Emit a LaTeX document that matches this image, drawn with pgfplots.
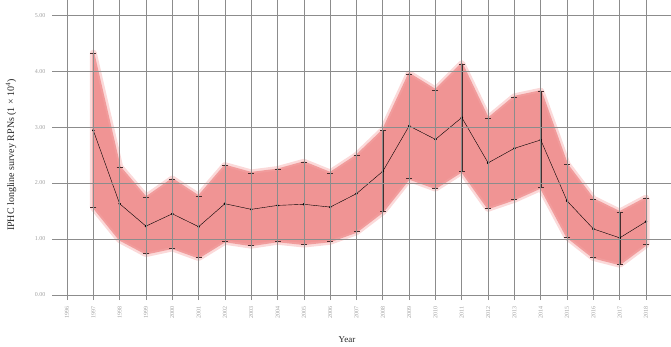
\documentclass[border=0pt]{standalone}
\usepackage{fontspec}
\setmainfont{Liberation Serif}
\usepackage{pgfplots}
\pgfplotsset{compat=1.18}
\usepackage{pgfplotstable}
\usepgfplotslibrary{fillbetween}
\definecolor{band}{RGB}{240,148,148}
\definecolor{halo}{RGB}{249,200,200}
\definecolor{gridc}{RGB}{140,140,140}
\definecolor{tickc}{RGB}{160,160,160}
\definecolor{errc}{RGB}{70,45,45}
\pgfplotstableread{
year mean lo hi
1997 2.94 1.57 4.32
1998 1.63 0.99 2.29
1999 1.23 0.74 1.74
2000 1.45 0.84 2.07
2001 1.22 0.67 1.76
2002 1.63 0.96 2.31
2003 1.53 0.89 2.18
2004 1.60 0.96 2.24
2005 1.62 0.91 2.37
2006 1.57 0.96 2.18
2007 1.81 1.13 2.49
2008 2.21 1.49 2.94
2009 3.02 2.08 3.95
2010 2.78 1.91 3.66
2011 3.17 2.21 4.13
2012 2.36 1.55 3.15
2013 2.62 1.71 3.54
2014 2.77 1.92 3.64
2015 1.68 1.04 2.33
2016 1.18 0.67 1.71
2017 1.02 0.55 1.48
2018 1.31 0.90 1.73
}\data
\begin{document}
\begin{tikzpicture}
\begin{axis}[
  at={(0pt,0pt)}, anchor=south west,
  scale only axis, width=625.6pt, height=300pt,
  xmin=1995.43, xmax=2019.2, ymin=-0.09, ymax=5.27,
  axis line style={draw=none},
  major tick length=0pt,
  xtick={1996,...,2018}, ytick={0,1,2,3,4,5},
  extra x ticks={2019}, extra x tick labels={},
  grid=major,
  major grid style={gridc, line width=0.7pt},
  axis on top,
  clip=false,
  /pgf/number format/assume math mode=true,
  xticklabel={\pgfmathprintnumber[1000 sep={}]{\tick}},
  yticklabel={\pgfmathprintnumber[fixed, fixed zerofill, precision=2]{\tick}},
  x tick label style={rotate=90, anchor=east, font=\fontsize{6}{7}\selectfont, text=tickc, xshift=-3pt},
  y tick label style={font=\fontsize{6}{7}\selectfont, text=tickc, xshift=-3pt},
]
\addplot[name path=U, draw=none] table[x=year, y=hi] {\data};
\addplot[name path=L, draw=none] table[x=year, y=lo] {\data};
\addplot[fill=halo, draw=halo!70!white, line width=7pt, line join=round] fill between[of=U and L];
\addplot[fill=band, draw=band!85!halo, line width=2pt, line join=round] fill between[of=U and L];
\addplot[errc, line width=0.5pt, draw=none, mark=none,
  error bars/.cd, y dir=both, y explicit,
  error mark options={rotate=90, mark size=3pt, line width=0.5pt, errc}]
  table[x=year, y=mean, y error plus expr=\thisrow{hi}-\thisrow{mean}, y error minus expr=\thisrow{mean}-\thisrow{lo}] {\data};
\addplot[black, line width=0.4pt, mark=*, mark size=1pt] table[x=year, y=mean] {\data};
\end{axis}
\node[rotate=90, text=black!85, font=\fontsize{10}{11}\selectfont] at (-41pt,145pt) {IPHC longline survey RPNs (1 × 10\textsuperscript{4})};
\node[text=black!85, font=\fontsize{9}{10}\selectfont] at (295pt,-40pt) {Year};
\pgfresetboundingbox
\path[use as bounding box] (-52pt,-46pt) rectangle (619pt,300pt);
\end{tikzpicture}
\end{document}
